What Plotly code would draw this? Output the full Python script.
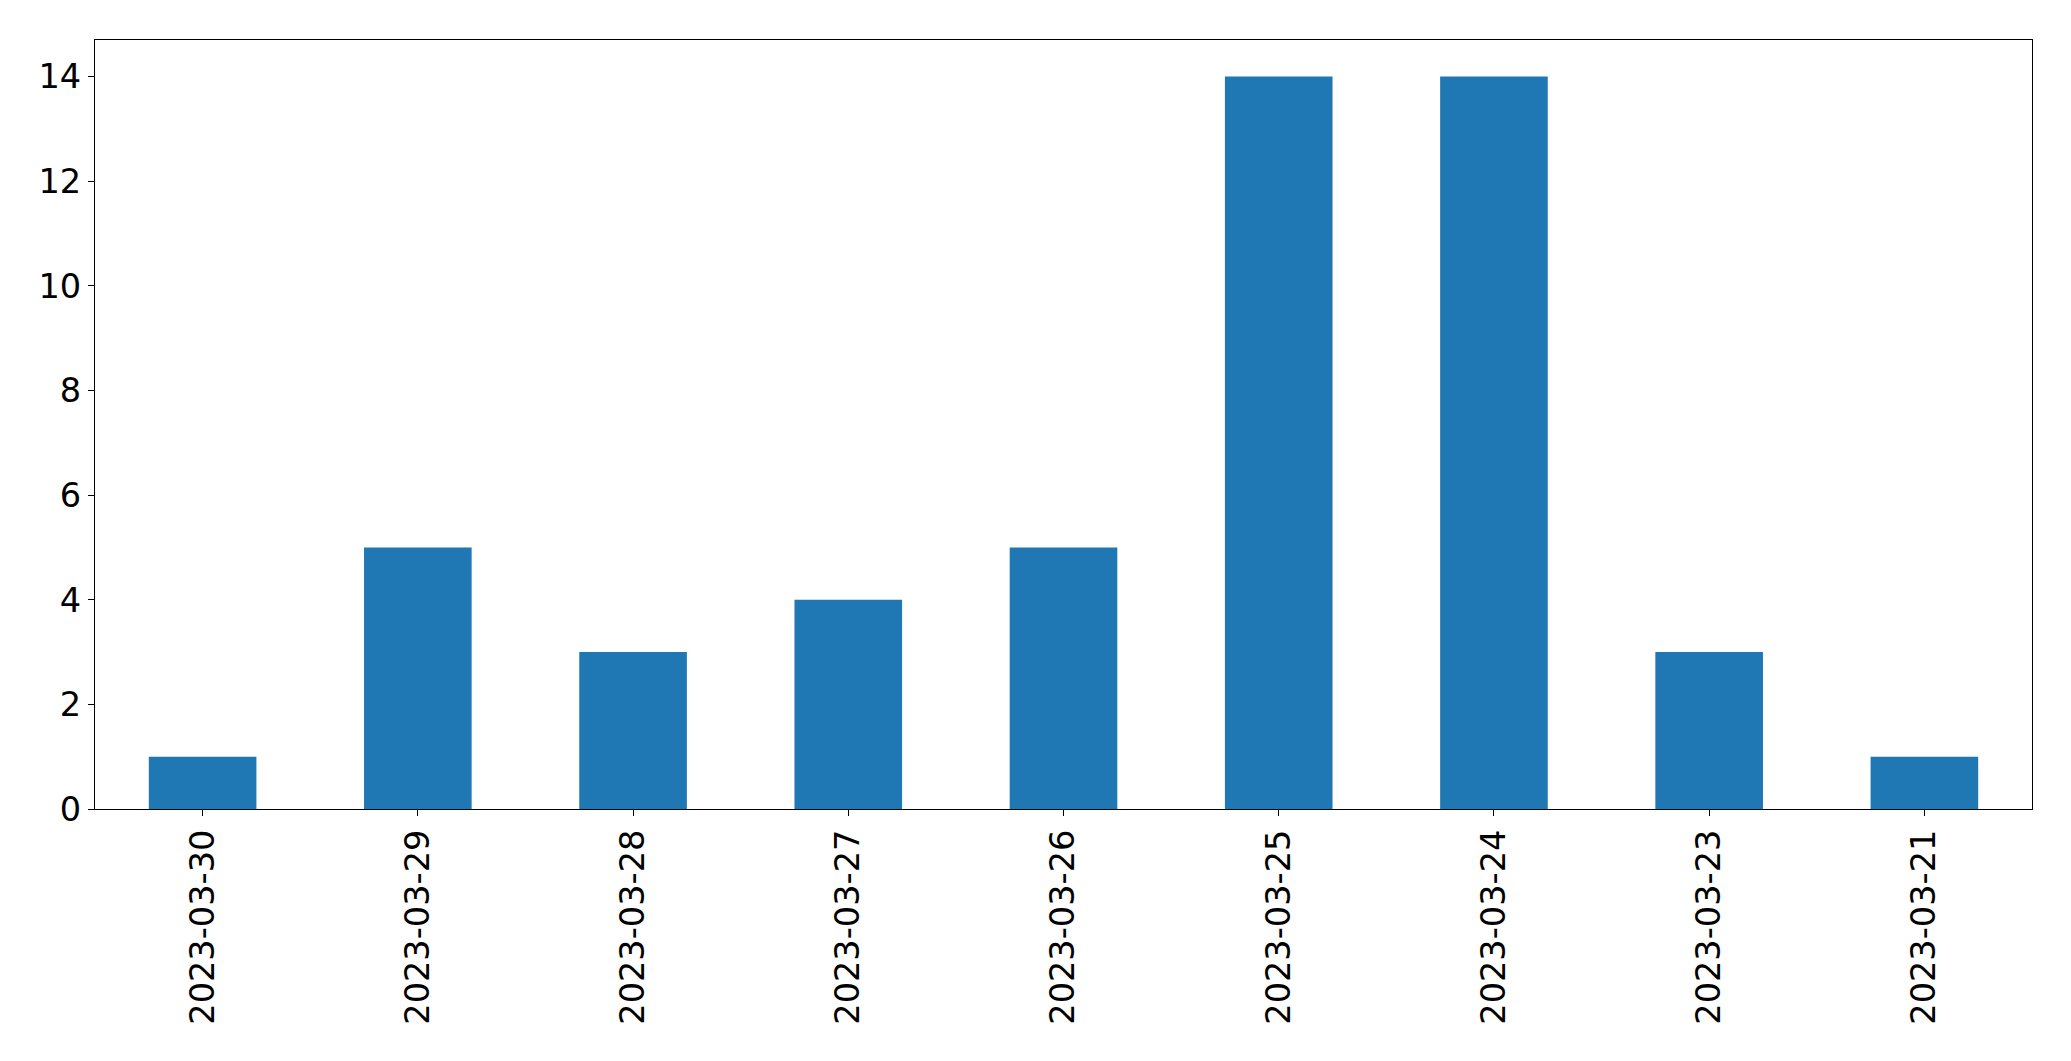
import plotly.graph_objects as go

dates = ["2023-03-30", "2023-03-29", "2023-03-28", "2023-03-27", "2023-03-26",
         "2023-03-25", "2023-03-24", "2023-03-23", "2023-03-21"]
counts = [1, 5, 3, 4, 5, 14, 14, 3, 1]
y_ticks = [0, 2, 4, 6, 8, 10, 12, 14]

FONT = dict(family="DejaVu Sans", size=33.6, color="black")

fig = go.Figure(go.Bar(
    x=dates, y=counts, width=0.5,
    marker=dict(color="#1f77b4", line=dict(width=0)),
))

fig.update_layout(
    width=2063, height=1053,
    margin=dict(l=87, r=39, t=32, b=252, pad=0),
    paper_bgcolor="white", plot_bgcolor="white",
    font=FONT,
    showlegend=False,
)
fig.update_xaxes(
    type="category", range=[-0.5, 8.5],
    showline=True, linecolor="black", linewidth=1.3, mirror=True,
    ticks="outside", ticklen=6, tickcolor="black", tickwidth=1.3,
    tickangle=-90, showgrid=False, zeroline=False,
    tickfont=FONT,
)
fig.update_yaxes(
    range=[0, 14.7], tickvals=y_ticks,
    showline=True, linecolor="black", linewidth=1.3, mirror=True,
    ticks="outside", ticklen=6, tickcolor="black", tickwidth=1.3,
    showgrid=False, zeroline=False,
    tickfont=FONT,
)

fig.write_html("out.html")
